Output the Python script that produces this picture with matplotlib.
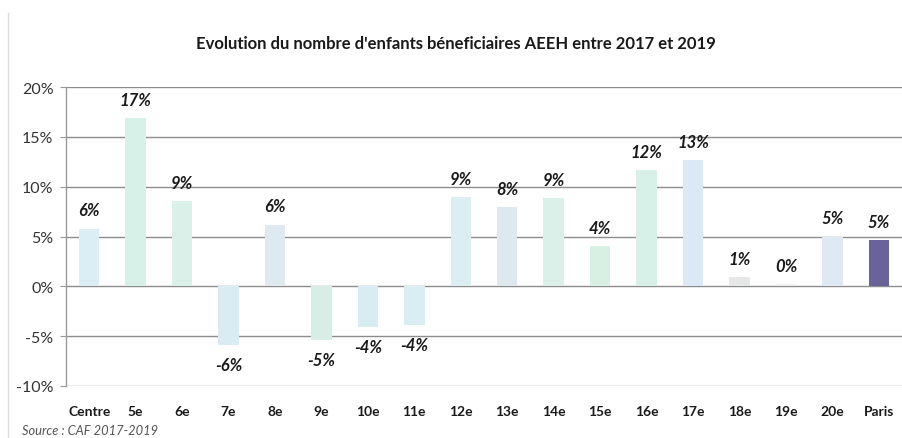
import matplotlib
matplotlib.use("Agg")
import matplotlib.pyplot as plt
from matplotlib.lines import Line2D
from matplotlib.ticker import FuncFormatter

plt.rcParams['font.family'] = ['Lato', 'DejaVu Sans']

categories = ["Centre", "5e", "6e", "7e", "8e", "9e", "10e", "11e", "12e",
              "13e", "14e", "15e", "16e", "17e", "18e", "19e", "20e", "Paris"]
evolution_pct = [5.8, 16.9, 8.6, -5.9, 6.2, -5.4, -4.1, -3.9, 9.0,
                 8.0, 8.9, 4.0, 11.7, 12.7, 0.9, 0.2, 5.0, 4.6]
bar_colors = ["#dbedf5", "#d7f1e8", "#daf1e9", "#d9ecf4", "#dee9f0", "#d6eee6",
              "#d8edf3", "#d8eef0", "#dbeff2", "#dee9ef", "#daf0e8", "#d7f0e3",
              "#d7f1e9", "#dae9f5", "#e6e8e8", "#eeeeee", "#dee9f4", "#6a6399"]
y_ticks = [-10, -5, 0, 5, 10, 15, 20]

fig = plt.figure(figsize=(9.02, 4.39), dpi=100)
ax = fig.add_axes([66 / 902, 1 - 387 / 439, (902 - 66) / 902, (387 - 88) / 439])

x = list(range(len(categories)))
ax.bar(x, evolution_pct, width=0.44, color=bar_colors, zorder=1)

ax.set_xlim(-0.5, len(categories) - 0.5)
ax.set_ylim(-10, 20)
ax.set_yticks(y_ticks)
ax.yaxis.set_major_formatter(FuncFormatter(lambda v, p: f"{v:.0f}%"))
ax.grid(axis='y', color='#8c8c8c', linewidth=1.0, zorder=0)
ax.set_axisbelow(True)

for side in ("top", "right", "bottom"):
    ax.spines[side].set_visible(False)
ax.spines["left"].set_color("#9a9a9a")
ax.spines["left"].set_linewidth(1.0)

ax.tick_params(axis='y', length=4, color='#9a9a9a', pad=5, labelsize=11.5,
               labelcolor='#333333')
ax.tick_params(axis='x', length=0, pad=14)
ax.set_xticks(x)
ax.set_xticklabels(categories, fontsize=10, fontweight='bold', color='#1a1a1a')

for xi, v in zip(x, evolution_pct):
    off = 13 if v >= 0 else -14
    ax.annotate(f"{round(v):.0f}%", (xi, v), xytext=(0, off),
                textcoords='offset points', ha='center', va='center',
                fontsize=12, fontweight='bold', fontstyle='italic',
                color='#1a1a1a')

fig.text(0.505, 1 - 44 / 439,
         "Evolution du nombre d'enfants béneficiaires AEEH entre 2017 et 2019",
         ha='center', va='center', fontsize=12, fontweight='bold', color='#1a1a1a')
fig.text(22 / 902, 1 - 431 / 439, "Source : CAF 2017-2019", ha='left',
         va='center', fontsize=9.3, fontstyle='italic', color='#555555')

fig.add_artist(Line2D([8 / 902, 8 / 902], [0, 1 - 14 / 439],
                      transform=fig.transFigure, color='#dcdcdc', linewidth=1))

fig.savefig("out.png", dpi=100)
